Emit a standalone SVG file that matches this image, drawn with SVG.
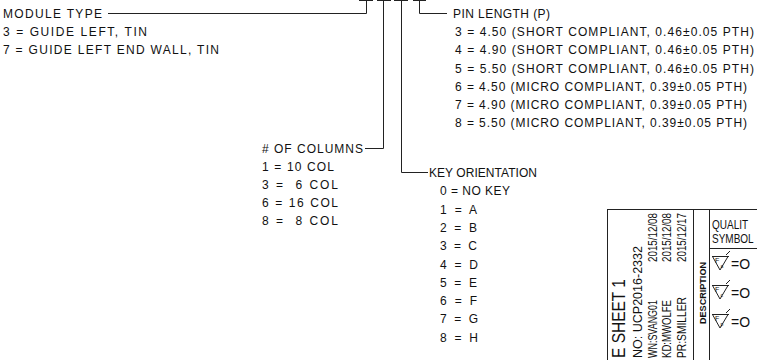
<svg xmlns="http://www.w3.org/2000/svg" width="757" height="360" viewBox="0 0 757 360">
<style>
  .t { font-family: "Liberation Sans", Arial, sans-serif; font-size: 12px; fill: #111; white-space: pre; }
  .n { font-family: "Liberation Sans", Arial, sans-serif; fill: #111; white-space: pre; }
  .ln { fill: none; stroke: #222; stroke-width: 1; }
</style>
<rect width="757" height="360" fill="#fff"/>

<g id="connectors" class="ln">
  <path d="M359 0.5 H373 M377 0.5 H391 M394 0.5 H408 M413 0.5 H426"/>
  <path d="M108 13.5 H366.5 V0"/>
  <path d="M365 148.5 H383.5 V0"/>
  <path d="M428 172.5 H401.5 V0"/>
  <path d="M447 13.5 H419.5 V0"/>
</g>

<g id="module-type">
  <text class="t" x="3" y="17.5" textLength="99" lengthAdjust="spacing">MODULE TYPE</text>
  <text class="t" x="3" y="35.5" textLength="144" lengthAdjust="spacing">3 = GUIDE LEFT, TIN</text>
  <text class="t" x="3" y="54" textLength="216" lengthAdjust="spacing">7 = GUIDE LEFT END WALL, TIN</text>
</g>

<g id="pin-length">
  <text class="t" x="453" y="18" textLength="97" lengthAdjust="spacing">PIN LENGTH (P)</text>
  <text class="t" x="455" y="35.5" textLength="299" lengthAdjust="spacing">3 = 4.50 (SHORT COMPLIANT, 0.46±0.05 PTH)</text>
  <text class="t" x="455" y="54" textLength="299" lengthAdjust="spacing">4 = 4.90 (SHORT COMPLIANT, 0.46±0.05 PTH)</text>
  <text class="t" x="455" y="72.5" textLength="299" lengthAdjust="spacing">5 = 5.50 (SHORT COMPLIANT, 0.46±0.05 PTH)</text>
  <text class="t" x="455" y="90.5" textLength="292" lengthAdjust="spacing">6 = 4.50 (MICRO COMPLIANT, 0.39±0.05 PTH)</text>
  <text class="t" x="455" y="109" textLength="292" lengthAdjust="spacing">7 = 4.90 (MICRO COMPLIANT, 0.39±0.05 PTH)</text>
  <text class="t" x="455" y="127" textLength="292" lengthAdjust="spacing">8 = 5.50 (MICRO COMPLIANT, 0.39±0.05 PTH)</text>
</g>

<g id="columns">
  <text class="t" x="262" y="152.5" textLength="101" lengthAdjust="spacing"># OF COLUMNS</text>
  <text class="t" x="262" y="170.5" textLength="72" lengthAdjust="spacing">1 = 10 COL</text>
  <text class="t" x="262" y="188.7" textLength="76" lengthAdjust="spacing">3 =  6 COL</text>
  <text class="t" x="262" y="206.9" textLength="76" lengthAdjust="spacing">6 = 16 COL</text>
  <text class="t" x="262" y="225.1" textLength="76" lengthAdjust="spacing">8 =  8 COL</text>
</g>

<g id="key-orientation">
  <text class="t" x="429" y="177" textLength="108" lengthAdjust="spacing">KEY ORIENTATION</text>
  <text class="t" x="440" y="195.3" textLength="70" lengthAdjust="spacing">0 = NO KEY</text>
  <text class="t" x="440" y="213.6" textLength="37" lengthAdjust="spacing">1 = A</text>
  <text class="t" x="440" y="231.9" textLength="37" lengthAdjust="spacing">2 = B</text>
  <text class="t" x="440" y="250.2" textLength="37" lengthAdjust="spacing">3 = C</text>
  <text class="t" x="440" y="268.5" textLength="38" lengthAdjust="spacing">4 = D</text>
  <text class="t" x="440" y="286.8" textLength="37" lengthAdjust="spacing">5 = E</text>
  <text class="t" x="440" y="305.1" textLength="37" lengthAdjust="spacing">6 = F</text>
  <text class="t" x="440" y="323.4" textLength="38" lengthAdjust="spacing">7 = G</text>
  <text class="t" x="440" y="341.7" textLength="38" lengthAdjust="spacing">8 = H</text>
</g>

<g id="title-block">
  <path class="ln" d="M607 209.5 H757 M607.5 209 V360 M693.5 209 V360 M709.5 209 V360 M709 248.5 H757"/>
  <text class="n" font-size="18" transform="translate(625,358) rotate(-90)" textLength="79" lengthAdjust="spacingAndGlyphs">E SHEET 1</text>
  <text class="n" font-size="13" transform="translate(642,358) rotate(-90)" textLength="112" lengthAdjust="spacingAndGlyphs">NO: UCP2016-2332</text>
  <text class="n" font-size="12" transform="translate(657,358) rotate(-90)" textLength="58" lengthAdjust="spacingAndGlyphs">WN:SVANG01</text>
  <text class="n" font-size="12" transform="translate(657,262) rotate(-90)" textLength="49" lengthAdjust="spacingAndGlyphs">2015/12/08</text>
  <text class="n" font-size="12" transform="translate(671,358) rotate(-90)" textLength="58" lengthAdjust="spacingAndGlyphs">KD:MWOLFE</text>
  <text class="n" font-size="12" transform="translate(671,262) rotate(-90)" textLength="49" lengthAdjust="spacingAndGlyphs">2015/12/08</text>
  <text class="n" font-size="12" transform="translate(686,358) rotate(-90)" textLength="61" lengthAdjust="spacingAndGlyphs">PR:SMILLER</text>
  <text class="n" font-size="12" transform="translate(686,262) rotate(-90)" textLength="49" lengthAdjust="spacingAndGlyphs">2015/12/17</text>
  <text class="n" font-size="9" font-weight="bold" transform="translate(705.5,324) rotate(-90)" textLength="62" lengthAdjust="spacingAndGlyphs">DESCRIPTION</text>
  <text class="n" font-size="12.5" transform="matrix(0.8 0 0 1 712 229)">QUALIT</text>
  <text class="n" font-size="12.5" transform="matrix(0.8 0 0 1 712 243)">SYMBOL</text>
</g>

<g id="symbol-1">
  <path class="ln" d="M712 256.5 H729 M712.5 256.5 L720 270 L728 256.5 M726 255 L730 251"/>
  <text class="n" font-size="7" x="715" y="263">F</text>
  <text class="n" font-size="5" x="720.5" y="268">a</text>
  <text class="n" font-size="14" x="731" y="269">=O</text>
</g>
<g id="symbol-2">
  <path class="ln" d="M712 285.5 H729 M712.5 285.5 L720 299 L728 285.5 M726 284 L730 280"/>
  <text class="n" font-size="7" x="715" y="292">F</text>
  <text class="n" font-size="5" x="720.5" y="297">c</text>
  <text class="n" font-size="14" x="731" y="298">=O</text>
</g>
<g id="symbol-3">
  <path class="ln" d="M712 314.5 H729 M712.5 314.5 L720 328 L728 314.5 M726 313 L730 309"/>
  <text class="n" font-size="7" x="715" y="321">F</text>
  <text class="n" font-size="5" x="720.5" y="326">p</text>
  <text class="n" font-size="14" x="731" y="327">=O</text>
</g>
</svg>
